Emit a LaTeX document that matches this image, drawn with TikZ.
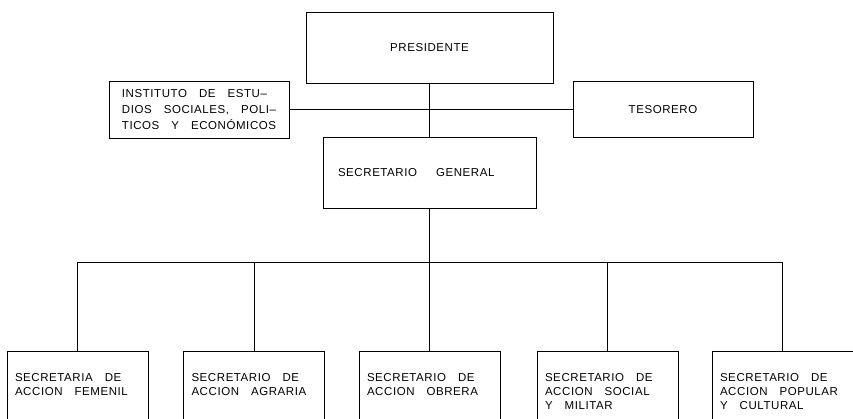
\documentclass[tikz,border=0pt]{standalone}
\usepackage{fontspec}
\setmainfont{Liberation Sans}[LetterSpace=5]
\hyphenpenalty=10000
\usetikzlibrary{positioning}

\tikzset{
    box/.style={draw, line width=0.7pt, font=\fontsize{11.5}{14}\selectfont,
        execute at begin node={\spaceskip=12pt plus 2pt minus 1pt\relax}},
    lower/.style={box, anchor=north, minimum width=141, minimum height=80,
        text width=125, inner xsep=8, align=left}
}

\begin{document}
\begin{tikzpicture}[x=1pt, y=-1pt]
    \useasboundingbox (0,0) rectangle (853,419);

    \node[box, minimum width=247, minimum height=71] (pres) at (429.5,47.5) {PRESIDENTE};
    \node[box, minimum width=180, minimum height=57, align=left,
        font=\fontsize{11.5}{16}\selectfont] (inst) at (199,109.5)
        {INSTITUTO DE ESTU–\\DIOS SOCIALES, POLI–\\TICOS Y ECONÓMICOS};
    \node[box, minimum width=180, minimum height=56] (tes) at (663,109.5) {TESORERO};
    \node[box, minimum width=213, minimum height=71, text width=183, inner xsep=15,
        align=left] (sg) at (429.5,172.5) {SECRETARIO\hspace{7pt} GENERAL};

    \node[lower] (fem) at (77.5,351) {SECRETARIA DE\\ACCION FEMENIL\\\mbox{}};
    \node[lower] (agr) at (254,351) {SECRETARIO DE\\ACCION AGRARIA\\\mbox{}};
    \node[lower] (obr) at (429.5,351) {SECRETARIO DE\\ACCION OBRERA\\\mbox{}};
    \node[lower] (soc) at (607.5,351) {SECRETARIO DE\\ACCION SOCIAL\\Y MILITAR};
    \node[lower] (pop) at (782.5,351) {SECRETARIO DE\\ACCION POPULAR\\Y CULTURAL};

    \coordinate (bus) at (432,262);

    \draw[line width=0.7pt] (pres) -- (sg);
    \draw[line width=0.7pt] (inst.east) -- (tes.west);
    \draw[line width=0.7pt] (sg.south) -- (sg.south |- bus);
    \draw[line width=0.7pt] (fem.north |- bus) -- (pop.north |- bus);
    \foreach \n in {fem,agr,obr,soc,pop}
        \draw[line width=0.7pt] (\n.north) -- (\n.north |- bus);
\end{tikzpicture}
\end{document}
